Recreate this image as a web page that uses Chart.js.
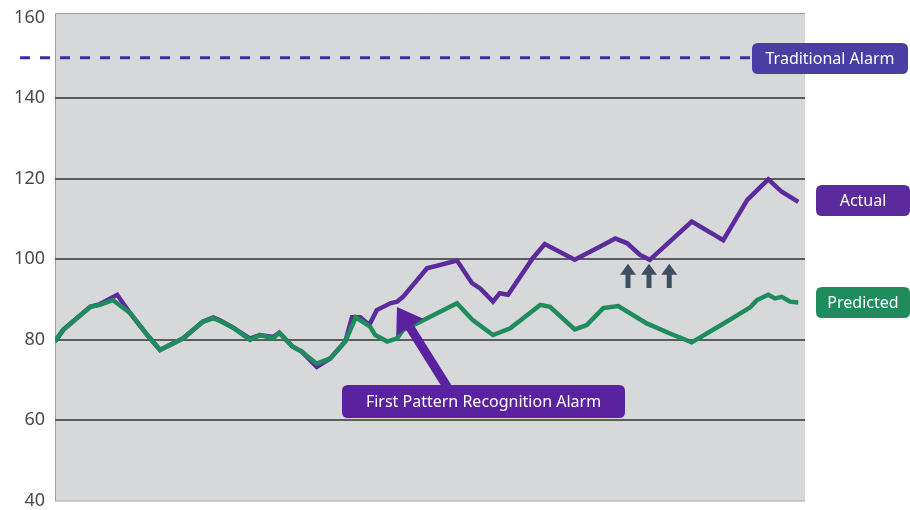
<!DOCTYPE html>
<html>
<head>
<meta charset="utf-8">
<script src="https://cdn.jsdelivr.net/npm/chart.js@4.4.1/dist/chart.umd.min.js"></script>
<style>
  html, body { margin: 0; padding: 0; background: #fff; }
  #wrap { width: 910px; height: 510px; }
</style>
</head>
<body>
<div id="wrap"><canvas id="alarmChart" width="910" height="510"></canvas></div>
<script>
// Valores (eje x sin etiquetas: tiempo 0-100)
const yTicks = [40, 60, 80, 100, 120, 140, 160];
const traditionalAlarm = 150;

const actualTime = [0, 1.1, 4.7, 6.0, 8.3, 10.0, 12.3, 14.0, 17.1, 19.7, 21.1, 22.0, 23.7, 26.0, 27.3, 29.1, 29.9,
  31.7, 32.9, 34.9, 36.7, 38.7, 39.6, 40.7, 41.9, 42.9, 44.7, 45.6, 46.4, 49.6, 53.6, 55.6, 56.7, 58.4, 59.3, 60.4,
  63.7, 65.3, 69.3, 72.7, 74.7, 76.3, 78.0, 79.3, 84.9, 89.1, 92.3, 95.1, 96.9, 99.1];
const actualValues = [79.5, 82.4, 88.1, 88.8, 91.1, 86.6, 81.1, 77.4, 80.3, 84.4, 85.5, 84.8, 83.0, 80.2, 81.1, 80.6, 81.7,
  78.2, 77.0, 73.2, 75.3, 79.5, 85.5, 85.5, 83.6, 87.3, 89.0, 89.4, 90.6, 97.7, 99.6, 94.0, 92.7, 89.4, 91.5, 91.1,
  100.2, 103.7, 99.8, 103.1, 105.1, 103.9, 101.0, 99.8, 109.3, 104.7, 114.7, 119.8, 116.7, 114.2];

const predictedTime = [0, 1.1, 4.7, 6.0, 7.7, 10.0, 12.3, 14.0, 17.1, 19.7, 21.1, 22.0, 23.7, 26.0, 27.3, 29.1, 29.9,
  31.7, 32.9, 34.9, 36.7, 38.7, 40.1, 42.0, 42.7, 44.3, 45.6, 46.4, 48.7, 53.6, 55.7, 58.4, 60.7, 64.7, 66.0, 69.3,
  70.9, 73.1, 75.1, 78.9, 82.0, 84.9, 89.1, 92.7, 93.6, 95.1, 96.0, 96.9, 98.0, 99.1];
const predictedValues = [79.5, 82.4, 88.1, 88.6, 89.8, 86.6, 81.1, 77.4, 80.3, 84.4, 85.3, 84.6, 83.0, 79.9, 81.1, 80.3, 81.7,
  78.2, 77.0, 74.0, 75.3, 79.5, 85.5, 83.2, 81.1, 79.5, 80.3, 82.4, 84.4, 89.0, 84.8, 81.1, 82.8, 88.6, 88.1, 82.5,
  83.6, 87.8, 88.3, 84.0, 81.5, 79.3, 83.9, 88.0, 89.8, 91.1, 90.2, 90.6, 89.4, 89.2];

const seriesNames = ['Actual', 'Predicted'];
const alarmLabels = ['Traditional Alarm', 'First Pattern Recognition Alarm'];

const purple = '#5b2a9c';
const green = '#1f8c5e';

function toPoints(xs, ys) {
    return xs.map(function(x, i) { return { x: x, y: ys[i] }; });
}

function roundRect(ctx, x, y, w, h, r) {
    ctx.beginPath();
    ctx.moveTo(x + r, y);
    ctx.lineTo(x + w - r, y);
    ctx.quadraticCurveTo(x + w, y, x + w, y + r);
    ctx.lineTo(x + w, y + h - r);
    ctx.quadraticCurveTo(x + w, y + h, x + w - r, y + h);
    ctx.lineTo(x + r, y + h);
    ctx.quadraticCurveTo(x, y + h, x, y + h - r);
    ctx.lineTo(x, y + r);
    ctx.quadraticCurveTo(x, y, x + r, y);
    ctx.closePath();
}

function labelBox(ctx, text, x, y, w, h, color) {
    ctx.save();
    roundRect(ctx, x, y, w, h, 6);
    ctx.fillStyle = color;
    ctx.fill();
    ctx.fillStyle = '#ffffff';
    ctx.font = '16px "Noto Sans", sans-serif';
    ctx.textAlign = 'center';
    ctx.textBaseline = 'middle';
    ctx.fillText(text, x + w / 2, y + h / 2 + 1);
    ctx.restore();
}

// Fondo gris del área de la gráfica
const fondoPlugin = {
    id: 'fondo',
    beforeDraw: function(chart) {
        const a = chart.chartArea;
        const ctx = chart.ctx;
        ctx.save();
        ctx.fillStyle = '#d6d8da';
        ctx.fillRect(a.left, a.top - 4, a.right - a.left, a.bottom - a.top + 4);
        ctx.strokeStyle = '#9a9c9e';
        ctx.lineWidth = 1;
        ctx.beginPath();
        ctx.moveTo(a.left + 0.5, a.bottom);
        ctx.lineTo(a.left + 0.5, a.top - 4);
        ctx.lineTo(a.right, a.top - 4);
        ctx.moveTo(a.left, a.bottom + 0.5);
        ctx.lineTo(a.right, a.bottom + 0.5);
        ctx.stroke();
        ctx.restore();
    }
};

// Anotaciones: alarma tradicional, flechas y etiquetas
const anotacionesPlugin = {
    id: 'anotaciones',
    afterDraw: function(chart) {
        const ctx = chart.ctx;
        const xs = chart.scales.x;
        const ys = chart.scales.y;

        // Línea discontinua de la alarma tradicional
        const yAlarm = ys.getPixelForValue(traditionalAlarm);
        ctx.save();
        ctx.strokeStyle = '#3b2e9e';
        ctx.lineWidth = 3;
        ctx.setLineDash([10, 10]);
        ctx.beginPath();
        ctx.moveTo(20, yAlarm);
        ctx.lineTo(750, yAlarm);
        ctx.stroke();
        ctx.restore();

        labelBox(ctx, alarmLabels[0], 752, 43, 156, 31, '#4a3da3');
        labelBox(ctx, seriesNames[0], 816, 185, 94, 31, purple);
        labelBox(ctx, seriesNames[1], 816, 287, 94, 31, green);

        // Flecha grande hacia el primer reconocimiento de patrón
        const tipX = xs.getPixelForValue(45.6), tipY = ys.getPixelForValue(88.1);
        const tailX = xs.getPixelForValue(52.3), tailY = ys.getPixelForValue(68.2);
        const ang = Math.atan2(tipY - tailY, tipX - tailX);
        const headLen = 24, headW = 16;
        const baseX = tipX - headLen * Math.cos(ang), baseY = tipY - headLen * Math.sin(ang);
        ctx.save();
        ctx.strokeStyle = '#5b22a0';
        ctx.fillStyle = '#5b22a0';
        ctx.lineWidth = 9;
        ctx.beginPath();
        ctx.moveTo(tailX, tailY);
        ctx.lineTo(baseX, baseY);
        ctx.stroke();
        ctx.beginPath();
        ctx.moveTo(tipX, tipY);
        ctx.lineTo(baseX + headW * Math.sin(ang), baseY - headW * Math.cos(ang));
        ctx.lineTo(baseX - headW * Math.sin(ang), baseY + headW * Math.cos(ang));
        ctx.closePath();
        ctx.fill();
        ctx.restore();

        labelBox(ctx, alarmLabels[1], 342, 385, 283, 33, '#5b22a0');

        // Tres flechas pequeñas
        const smallArrowTimes = [76.4, 79.2, 81.9];
        ctx.save();
        ctx.fillStyle = '#3e5060';
        ctx.strokeStyle = '#3e5060';
        smallArrowTimes.forEach(function(t) {
            const cx = xs.getPixelForValue(t);
            const top = ys.getPixelForValue(98.8);
            const bottom = ys.getPixelForValue(92.8);
            ctx.lineWidth = 5;
            ctx.beginPath();
            ctx.moveTo(cx, bottom);
            ctx.lineTo(cx, top + 8);
            ctx.stroke();
            ctx.beginPath();
            ctx.moveTo(cx, top);
            ctx.lineTo(cx + 8, top + 11);
            ctx.lineTo(cx - 8, top + 11);
            ctx.closePath();
            ctx.fill();
        });
        ctx.restore();
    }
};

const ctx = document.getElementById('alarmChart').getContext('2d');
const alarmChart = new Chart(ctx, {
    type: 'line',
    data: {
        datasets: [{
            label: seriesNames[0],
            data: toPoints(actualTime, actualValues),
            borderColor: purple,
            borderWidth: 4.5,
            pointRadius: 0,
            tension: 0,
            order: 1
        }, {
            label: seriesNames[1],
            data: toPoints(predictedTime, predictedValues),
            borderColor: green,
            borderWidth: 4.5,
            pointRadius: 0,
            tension: 0,
            order: 0
        }]
    },
    options: {
        responsive: false,
        animation: false,
        layout: { padding: { top: 17.5, right: 105, bottom: 9.5, left: 0 } },
        plugins: {
            legend: { display: false },
            tooltip: { enabled: false }
        },
        scales: {
            x: {
                type: 'linear',
                min: 0,
                max: 100,
                display: false
            },
            y: {
                min: yTicks[0],
                max: yTicks[yTicks.length - 1],
                afterBuildTicks: function(scale) {
                    scale.ticks = yTicks.map(function(v) { return { value: v }; });
                },
                afterFit: function(scale) {
                    scale.width = 55;
                    scale.paddingTop = 0;
                    scale.paddingBottom = 0;
                },
                border: { display: false },
                grid: {
                    drawTicks: false,
                    lineWidth: 2,
                    color: function(c) {
                        const v = c.tick && c.tick.value;
                        return (v === 40 || v === 160) ? 'rgba(0,0,0,0)' : '#5a5c5e';
                    }
                },
                ticks: {
                    padding: 10,
                    color: '#4a4a4a',
                    font: { family: '"Noto Sans", sans-serif', size: 18, lineHeight: 1 }
                }
            }
        }
    },
    plugins: [fondoPlugin, anotacionesPlugin]
});
</script>
</body>
</html>
